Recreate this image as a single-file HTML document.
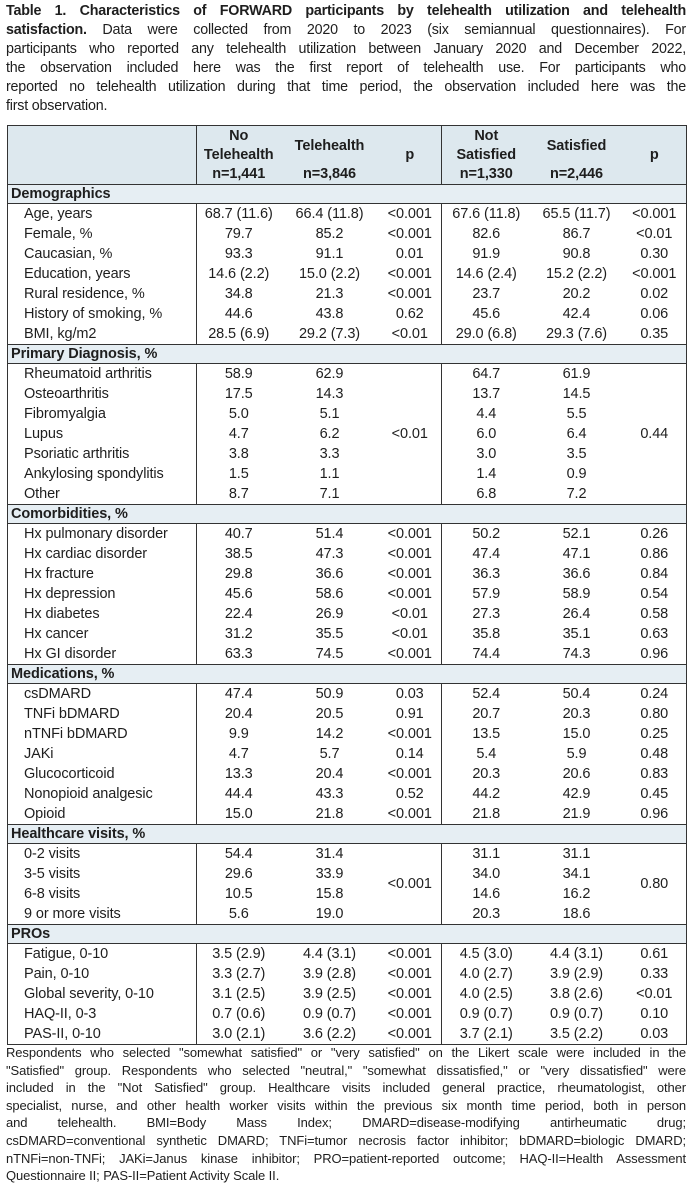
<!DOCTYPE html>
<html><head><meta charset="utf-8">
<style>
body{margin:0;width:698px;height:1186px;background:#fff;font-family:"Liberation Sans",sans-serif;color:#1e1e1e;overflow:hidden;position:relative}
.p{position:absolute;left:6px;width:680px}
.ln{text-align:justify;text-align-last:justify;white-space:nowrap;overflow:visible}
.last{text-align-last:left}
#title{top:2px;font-size:14.3px;line-height:19px;letter-spacing:-0.2px}
#foot{top:1044px;font-size:13px;line-height:17.6px;letter-spacing:-0.1px}
table{position:absolute;left:7px;top:125px;width:679px;border-collapse:collapse;table-layout:fixed;font-size:14.5px}
td,th{padding:0;height:20px;line-height:20px;text-align:center;white-space:nowrap;letter-spacing:-0.1px}
thead th{background:#dde8ee;height:58px;line-height:19px;font-weight:bold;border-top:1px solid #333;border-bottom:1px solid #333;vertical-align:middle}
.h2{height:38px;line-height:38px}
tr.sec td{background:#e6eef3;font-weight:bold;text-align:left;padding-left:3px;border-top:1px solid #333;border-bottom:1px solid #333;height:18px;line-height:18px}
td.l{text-align:left;padding-left:16px}
.vl{border-left:1px solid #333}
table{border-left:1px solid #333;border-right:1px solid #333;border-bottom:1px solid #333}
</style></head><body>
<div id="title" class="p">
<div class="ln"><b>Table 1. Characteristics of FORWARD participants by telehealth utilization and telehealth</b></div>
<div class="ln"><b>satisfaction.</b> Data were collected from 2020 to 2023 (six semiannual questionnaires). For</div>
<div class="ln">participants who reported any telehealth utilization between January 2020 and December 2022,</div>
<div class="ln">the observation included here was the first report of telehealth use. For participants who</div>
<div class="ln">reported no telehealth utilization during that time period, the observation included here was the</div>
<div class="ln last">first observation.</div>
</div>
<table>
<colgroup><col style="width:189px"><col style="width:84px"><col style="width:98px"><col style="width:63px"><col style="width:89px"><col style="width:92px"><col style="width:64px"></colgroup>
<thead><tr>
<th></th><th class="vl">No<br>Telehealth<br>n=1,441</th><th><div class="h2">Telehealth</div><div>n=3,846</div></th><th>p</th><th class="vl">Not<br>Satisfied<br>n=1,330</th><th><div class="h2">Satisfied</div><div>n=2,446</div></th><th>p</th></tr></thead>
<tbody>
<tr class="sec"><td colspan="7">Demographics</td></tr>
<tr><td class="l">Age, years</td><td class="vl">68.7 (11.6)</td><td>66.4 (11.8)</td><td>&lt;0.001</td><td class="vl">67.6 (11.8)</td><td>65.5 (11.7)</td><td>&lt;0.001</td></tr>
<tr><td class="l">Female, %</td><td class="vl">79.7</td><td>85.2</td><td>&lt;0.001</td><td class="vl">82.6</td><td>86.7</td><td>&lt;0.01</td></tr>
<tr><td class="l">Caucasian, %</td><td class="vl">93.3</td><td>91.1</td><td>0.01</td><td class="vl">91.9</td><td>90.8</td><td>0.30</td></tr>
<tr><td class="l">Education, years</td><td class="vl">14.6 (2.2)</td><td>15.0 (2.2)</td><td>&lt;0.001</td><td class="vl">14.6 (2.4)</td><td>15.2 (2.2)</td><td>&lt;0.001</td></tr>
<tr><td class="l">Rural residence, %</td><td class="vl">34.8</td><td>21.3</td><td>&lt;0.001</td><td class="vl">23.7</td><td>20.2</td><td>0.02</td></tr>
<tr><td class="l">History of smoking, %</td><td class="vl">44.6</td><td>43.8</td><td>0.62</td><td class="vl">45.6</td><td>42.4</td><td>0.06</td></tr>
<tr><td class="l">BMI, kg/m2</td><td class="vl">28.5 (6.9)</td><td>29.2 (7.3)</td><td>&lt;0.01</td><td class="vl">29.0 (6.8)</td><td>29.3 (7.6)</td><td>0.35</td></tr>
<tr class="sec"><td colspan="7">Primary Diagnosis, %</td></tr>
<tr><td class="l">Rheumatoid arthritis</td><td class="vl">58.9</td><td>62.9</td><td rowspan="7">&lt;0.01</td><td class="vl">64.7</td><td>61.9</td><td rowspan="7">0.44</td></tr>
<tr><td class="l">Osteoarthritis</td><td class="vl">17.5</td><td>14.3</td><td class="vl">13.7</td><td>14.5</td></tr>
<tr><td class="l">Fibromyalgia</td><td class="vl">5.0</td><td>5.1</td><td class="vl">4.4</td><td>5.5</td></tr>
<tr><td class="l">Lupus</td><td class="vl">4.7</td><td>6.2</td><td class="vl">6.0</td><td>6.4</td></tr>
<tr><td class="l">Psoriatic arthritis</td><td class="vl">3.8</td><td>3.3</td><td class="vl">3.0</td><td>3.5</td></tr>
<tr><td class="l">Ankylosing spondylitis</td><td class="vl">1.5</td><td>1.1</td><td class="vl">1.4</td><td>0.9</td></tr>
<tr><td class="l">Other</td><td class="vl">8.7</td><td>7.1</td><td class="vl">6.8</td><td>7.2</td></tr>
<tr class="sec"><td colspan="7">Comorbidities, %</td></tr>
<tr><td class="l">Hx pulmonary disorder</td><td class="vl">40.7</td><td>51.4</td><td>&lt;0.001</td><td class="vl">50.2</td><td>52.1</td><td>0.26</td></tr>
<tr><td class="l">Hx cardiac disorder</td><td class="vl">38.5</td><td>47.3</td><td>&lt;0.001</td><td class="vl">47.4</td><td>47.1</td><td>0.86</td></tr>
<tr><td class="l">Hx fracture</td><td class="vl">29.8</td><td>36.6</td><td>&lt;0.001</td><td class="vl">36.3</td><td>36.6</td><td>0.84</td></tr>
<tr><td class="l">Hx depression</td><td class="vl">45.6</td><td>58.6</td><td>&lt;0.001</td><td class="vl">57.9</td><td>58.9</td><td>0.54</td></tr>
<tr><td class="l">Hx diabetes</td><td class="vl">22.4</td><td>26.9</td><td>&lt;0.01</td><td class="vl">27.3</td><td>26.4</td><td>0.58</td></tr>
<tr><td class="l">Hx cancer</td><td class="vl">31.2</td><td>35.5</td><td>&lt;0.01</td><td class="vl">35.8</td><td>35.1</td><td>0.63</td></tr>
<tr><td class="l">Hx GI disorder</td><td class="vl">63.3</td><td>74.5</td><td>&lt;0.001</td><td class="vl">74.4</td><td>74.3</td><td>0.96</td></tr>
<tr class="sec"><td colspan="7">Medications, %</td></tr>
<tr><td class="l">csDMARD</td><td class="vl">47.4</td><td>50.9</td><td>0.03</td><td class="vl">52.4</td><td>50.4</td><td>0.24</td></tr>
<tr><td class="l">TNFi bDMARD</td><td class="vl">20.4</td><td>20.5</td><td>0.91</td><td class="vl">20.7</td><td>20.3</td><td>0.80</td></tr>
<tr><td class="l">nTNFi bDMARD</td><td class="vl">9.9</td><td>14.2</td><td>&lt;0.001</td><td class="vl">13.5</td><td>15.0</td><td>0.25</td></tr>
<tr><td class="l">JAKi</td><td class="vl">4.7</td><td>5.7</td><td>0.14</td><td class="vl">5.4</td><td>5.9</td><td>0.48</td></tr>
<tr><td class="l">Glucocorticoid</td><td class="vl">13.3</td><td>20.4</td><td>&lt;0.001</td><td class="vl">20.3</td><td>20.6</td><td>0.83</td></tr>
<tr><td class="l">Nonopioid analgesic</td><td class="vl">44.4</td><td>43.3</td><td>0.52</td><td class="vl">44.2</td><td>42.9</td><td>0.45</td></tr>
<tr><td class="l">Opioid</td><td class="vl">15.0</td><td>21.8</td><td>&lt;0.001</td><td class="vl">21.8</td><td>21.9</td><td>0.96</td></tr>
<tr class="sec"><td colspan="7">Healthcare visits, %</td></tr>
<tr><td class="l">0-2 visits</td><td class="vl">54.4</td><td>31.4</td><td rowspan="4">&lt;0.001</td><td class="vl">31.1</td><td>31.1</td><td rowspan="4">0.80</td></tr>
<tr><td class="l">3-5 visits</td><td class="vl">29.6</td><td>33.9</td><td class="vl">34.0</td><td>34.1</td></tr>
<tr><td class="l">6-8 visits</td><td class="vl">10.5</td><td>15.8</td><td class="vl">14.6</td><td>16.2</td></tr>
<tr><td class="l">9 or more visits</td><td class="vl">5.6</td><td>19.0</td><td class="vl">20.3</td><td>18.6</td></tr>
<tr class="sec"><td colspan="7">PROs</td></tr>
<tr><td class="l">Fatigue, 0-10</td><td class="vl">3.5 (2.9)</td><td>4.4 (3.1)</td><td>&lt;0.001</td><td class="vl">4.5 (3.0)</td><td>4.4 (3.1)</td><td>0.61</td></tr>
<tr><td class="l">Pain, 0-10</td><td class="vl">3.3 (2.7)</td><td>3.9 (2.8)</td><td>&lt;0.001</td><td class="vl">4.0 (2.7)</td><td>3.9 (2.9)</td><td>0.33</td></tr>
<tr><td class="l">Global severity, 0-10</td><td class="vl">3.1 (2.5)</td><td>3.9 (2.5)</td><td>&lt;0.001</td><td class="vl">4.0 (2.5)</td><td>3.8 (2.6)</td><td>&lt;0.01</td></tr>
<tr><td class="l">HAQ-II, 0-3</td><td class="vl">0.7 (0.6)</td><td>0.9 (0.7)</td><td>&lt;0.001</td><td class="vl">0.9 (0.7)</td><td>0.9 (0.7)</td><td>0.10</td></tr>
<tr><td class="l">PAS-II, 0-10</td><td class="vl">3.0 (2.1)</td><td>3.6 (2.2)</td><td>&lt;0.001</td><td class="vl">3.7 (2.1)</td><td>3.5 (2.2)</td><td>0.03</td></tr>
</tbody></table>
<div id="foot" class="p">
<div class="ln">Respondents who selected "somewhat satisfied" or "very satisfied" on the Likert scale were included in the</div>
<div class="ln">"Satisfied" group. Respondents who selected "neutral," "somewhat dissatisfied," or "very dissatisfied" were</div>
<div class="ln">included in the "Not Satisfied" group. Healthcare visits included general practice, rheumatologist, other</div>
<div class="ln">specialist, nurse, and other health worker visits within the previous six month time period, both in person</div>
<div class="ln">and telehealth. BMI=Body Mass Index; DMARD=disease-modifying antirheumatic drug;</div>
<div class="ln">csDMARD=conventional synthetic DMARD; TNFi=tumor necrosis factor inhibitor; bDMARD=biologic DMARD;</div>
<div class="ln">nTNFi=non-TNFi; JAKi=Janus kinase inhibitor; PRO=patient-reported outcome; HAQ-II=Health Assessment</div>
<div class="ln last">Questionnaire II; PAS-II=Patient Activity Scale II.</div>
</div>
</body></html>
